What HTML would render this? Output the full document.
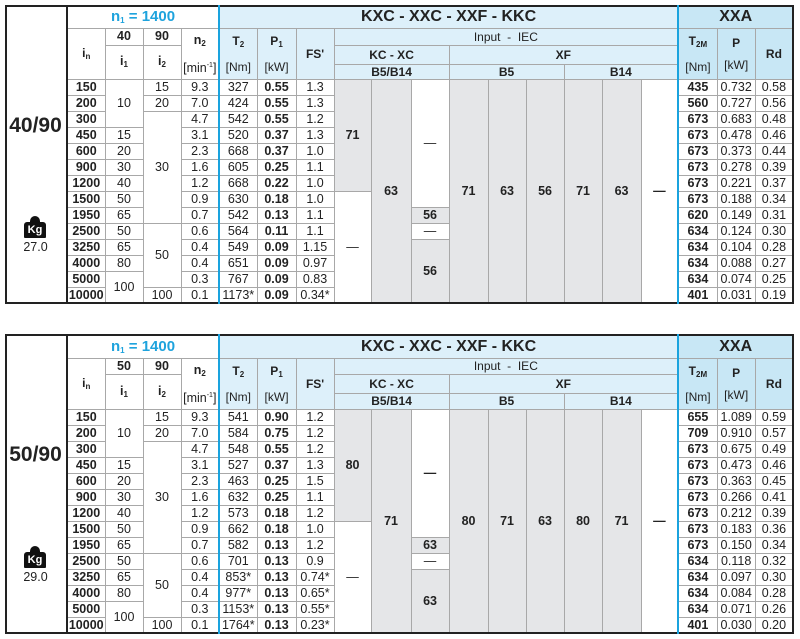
<!DOCTYPE html>
<html><head><meta charset="utf-8">
<style>
body{margin:0;width:800px;height:639px;background:#fff;position:relative;overflow:hidden;font-family:"Liberation Sans",Arial,sans-serif;color:#222;}
table{position:absolute;left:5px;border-collapse:collapse;table-layout:fixed;border:2px solid #222;}
td{border:1px solid #a8a8a8;padding:0;text-align:center;font-size:12.5px;line-height:1;white-space:nowrap;overflow:hidden;}
.lab{border-right:2px solid #222;}
.h{background:#ddf0fa;font-weight:bold;font-size:12px;}
.hx{background:#c8e7f5;font-weight:bold;font-size:12px;}
.n{font-weight:normal;}
.n1{color:#1ea3dd;font-size:15px;font-weight:bold;background:#fff;}
.bl{border-left:2px solid #1aa3de;}
.g{background:#e5e6e8;font-weight:bold;}
.w{background:#fff;}
.b{font-weight:bold;}
.ov{position:absolute;text-align:center;width:61px;left:5px;}
.big{font-size:21px;font-weight:bold;}
.kg{position:absolute;left:24px;width:22px;}
.kg .k{position:absolute;top:6px;left:0;width:22px;height:16px;background:#111;border-radius:3px 3px 1px 1px;color:#fff;font-size:11px;font-weight:bold;line-height:16px;text-align:center;}
.kg .t1{position:absolute;top:0;left:6px;width:10px;height:7px;background:#111;border-radius:5px 5px 0 0;}
sub{font-size:8px;vertical-align:-2px;}
sup{font-size:7px;vertical-align:5px;}
</style></head><body>

<table style="top:5px;width:787px;">
<colgroup><col style="width:61px"><col style="width:38px"><col style="width:38px"><col style="width:38px"><col style="width:38px"><col style="width:38px"><col style="width:39px"><col style="width:38px"><col style="width:37px"><col style="width:40px"><col style="width:38px"><col style="width:39px"><col style="width:38px"><col style="width:38px"><col style="width:38px"><col style="width:39px"><col style="width:37px"><col style="width:39px"><col style="width:38px"><col style="width:38px"></colgroup>
<tr style="height:22px"><td class="lab" rowspan="18"></td><td class="n1" colspan="4">n<sub>1</sub> = 1400</td><td class="h bl" colspan="12" style="font-size:16px">KXC - XXC - XXF - KKC</td><td class="hx bl" colspan="3" style="font-size:16px">XXA</td></tr>
<tr style="height:17px"><td class="b" rowspan="3" style="font-size:12px">i<sub>n</sub></td><td class="b">40</td><td class="b">90</td><td class="b" rowspan="3" style="line-height:22px">n<sub>2</sub><br><span class="n">[min<sup>-1</sup>]</span></td><td class="h bl" rowspan="3" style="line-height:22px">T<sub>2</sub><br><span class="n">[Nm]</span></td><td class="h" rowspan="3" style="line-height:22px">P<sub>1</sub><br><span class="n">[kW]</span></td><td class="h" rowspan="3">FS'</td><td class="h n" colspan="9">Input &nbsp;- &nbsp;IEC</td><td class="hx bl" rowspan="3" style="line-height:22px">T<sub>2M</sub><br><span class="n">[Nm]</span></td><td class="hx" rowspan="3" style="line-height:22px">P<br><span class="n">[kW]</span></td><td class="hx" rowspan="3">Rd</td></tr>
<tr style="height:18px"><td class="b" rowspan="2">i<sub>1</sub></td><td class="b" rowspan="2">i<sub>2</sub></td><td class="h" colspan="3">KC - XC</td><td class="h" colspan="6">XF</td></tr>
<tr style="height:15px"><td class="h" colspan="3">B5/B14</td><td class="h" colspan="3">B5</td><td class="h" colspan="3">B14</td></tr>
<tr style="height:16px"><td class="b">150</td><td rowspan="3">10</td><td>15</td><td>9.3</td><td class="bl">327</td><td class="b">0.55</td><td>1.3</td><td class="g" rowspan="7">71</td><td class="g" rowspan="14">63</td><td class="w" rowspan="8">—</td><td class="g" rowspan="14">71</td><td class="g" rowspan="14">63</td><td class="g" rowspan="14">56</td><td class="g" rowspan="14">71</td><td class="g" rowspan="14">63</td><td class="w b" rowspan="14">—</td><td class="b bl">435</td><td>0.732</td><td>0.58</td></tr>
<tr style="height:16px"><td class="b">200</td><td>20</td><td>7.0</td><td class="bl">424</td><td class="b">0.55</td><td>1.3</td><td class="b bl">560</td><td>0.727</td><td>0.56</td></tr>
<tr style="height:16px"><td class="b">300</td><td rowspan="7">30</td><td>4.7</td><td class="bl">542</td><td class="b">0.55</td><td>1.2</td><td class="b bl">673</td><td>0.683</td><td>0.48</td></tr>
<tr style="height:16px"><td class="b">450</td><td>15</td><td>3.1</td><td class="bl">520</td><td class="b">0.37</td><td>1.3</td><td class="b bl">673</td><td>0.478</td><td>0.46</td></tr>
<tr style="height:16px"><td class="b">600</td><td>20</td><td>2.3</td><td class="bl">668</td><td class="b">0.37</td><td>1.0</td><td class="b bl">673</td><td>0.373</td><td>0.44</td></tr>
<tr style="height:16px"><td class="b">900</td><td>30</td><td>1.6</td><td class="bl">605</td><td class="b">0.25</td><td>1.1</td><td class="b bl">673</td><td>0.278</td><td>0.39</td></tr>
<tr style="height:16px"><td class="b">1200</td><td>40</td><td>1.2</td><td class="bl">668</td><td class="b">0.22</td><td>1.0</td><td class="b bl">673</td><td>0.221</td><td>0.37</td></tr>
<tr style="height:16px"><td class="b">1500</td><td>50</td><td>0.9</td><td class="bl">630</td><td class="b">0.18</td><td>1.0</td><td class="w" rowspan="7">—</td><td class="b bl">673</td><td>0.188</td><td>0.34</td></tr>
<tr style="height:16px"><td class="b">1950</td><td>65</td><td>0.7</td><td class="bl">542</td><td class="b">0.13</td><td>1.1</td><td class="g">56</td><td class="b bl">620</td><td>0.149</td><td>0.31</td></tr>
<tr style="height:16px"><td class="b">2500</td><td>50</td><td rowspan="4">50</td><td>0.6</td><td class="bl">564</td><td class="b">0.11</td><td>1.1</td><td class="w">—</td><td class="b bl">634</td><td>0.124</td><td>0.30</td></tr>
<tr style="height:16px"><td class="b">3250</td><td>65</td><td>0.4</td><td class="bl">549</td><td class="b">0.09</td><td>1.15</td><td class="g" rowspan="4">56</td><td class="b bl">634</td><td>0.104</td><td>0.28</td></tr>
<tr style="height:16px"><td class="b">4000</td><td>80</td><td>0.4</td><td class="bl">651</td><td class="b">0.09</td><td>0.97</td><td class="b bl">634</td><td>0.088</td><td>0.27</td></tr>
<tr style="height:16px"><td class="b">5000</td><td rowspan="2">100</td><td>0.3</td><td class="bl">767</td><td class="b">0.09</td><td>0.83</td><td class="b bl">634</td><td>0.074</td><td>0.25</td></tr>
<tr style="height:16px"><td class="b">10000</td><td>100</td><td>0.1</td><td class="bl">1173*</td><td class="b">0.09</td><td>0.34*</td><td class="b bl">401</td><td>0.031</td><td>0.19</td></tr>
</table>

<table style="top:334px;width:787px;">
<colgroup><col style="width:61px"><col style="width:38px"><col style="width:38px"><col style="width:38px"><col style="width:38px"><col style="width:38px"><col style="width:39px"><col style="width:38px"><col style="width:37px"><col style="width:40px"><col style="width:38px"><col style="width:39px"><col style="width:38px"><col style="width:38px"><col style="width:38px"><col style="width:39px"><col style="width:37px"><col style="width:39px"><col style="width:38px"><col style="width:38px"></colgroup>
<tr style="height:23px"><td class="lab" rowspan="18"></td><td class="n1" colspan="4">n<sub>1</sub> = 1400</td><td class="h bl" colspan="12" style="font-size:16px">KXC - XXC - XXF - KKC</td><td class="hx bl" colspan="3" style="font-size:16px">XXA</td></tr>
<tr style="height:16px"><td class="b" rowspan="3" style="font-size:12px">i<sub>n</sub></td><td class="b">50</td><td class="b">90</td><td class="b" rowspan="3" style="line-height:22px">n<sub>2</sub><br><span class="n">[min<sup>-1</sup>]</span></td><td class="h bl" rowspan="3" style="line-height:22px">T<sub>2</sub><br><span class="n">[Nm]</span></td><td class="h" rowspan="3" style="line-height:22px">P<sub>1</sub><br><span class="n">[kW]</span></td><td class="h" rowspan="3">FS'</td><td class="h n" colspan="9">Input &nbsp;- &nbsp;IEC</td><td class="hx bl" rowspan="3" style="line-height:22px">T<sub>2M</sub><br><span class="n">[Nm]</span></td><td class="hx" rowspan="3" style="line-height:22px">P<br><span class="n">[kW]</span></td><td class="hx" rowspan="3">Rd</td></tr>
<tr style="height:16px"><td class="b" rowspan="2">i<sub>1</sub></td><td class="b" rowspan="2">i<sub>2</sub></td><td class="h" colspan="3">KC - XC</td><td class="h" colspan="6">XF</td></tr>
<tr style="height:16px"><td class="h" colspan="3">B5/B14</td><td class="h" colspan="3">B5</td><td class="h" colspan="3">B14</td></tr>
<tr style="height:16px"><td class="b">150</td><td rowspan="3">10</td><td>15</td><td>9.3</td><td class="bl">541</td><td class="b">0.90</td><td>1.2</td><td class="g" rowspan="7">80</td><td class="g" rowspan="14">71</td><td class="w b" rowspan="8">—</td><td class="g" rowspan="14">80</td><td class="g" rowspan="14">71</td><td class="g" rowspan="14">63</td><td class="g" rowspan="14">80</td><td class="g" rowspan="14">71</td><td class="w b" rowspan="14">—</td><td class="b bl">655</td><td>1.089</td><td>0.59</td></tr>
<tr style="height:16px"><td class="b">200</td><td>20</td><td>7.0</td><td class="bl">584</td><td class="b">0.75</td><td>1.2</td><td class="b bl">709</td><td>0.910</td><td>0.57</td></tr>
<tr style="height:16px"><td class="b">300</td><td rowspan="7">30</td><td>4.7</td><td class="bl">548</td><td class="b">0.55</td><td>1.2</td><td class="b bl">673</td><td>0.675</td><td>0.49</td></tr>
<tr style="height:16px"><td class="b">450</td><td>15</td><td>3.1</td><td class="bl">527</td><td class="b">0.37</td><td>1.3</td><td class="b bl">673</td><td>0.473</td><td>0.46</td></tr>
<tr style="height:16px"><td class="b">600</td><td>20</td><td>2.3</td><td class="bl">463</td><td class="b">0.25</td><td>1.5</td><td class="b bl">673</td><td>0.363</td><td>0.45</td></tr>
<tr style="height:16px"><td class="b">900</td><td>30</td><td>1.6</td><td class="bl">632</td><td class="b">0.25</td><td>1.1</td><td class="b bl">673</td><td>0.266</td><td>0.41</td></tr>
<tr style="height:16px"><td class="b">1200</td><td>40</td><td>1.2</td><td class="bl">573</td><td class="b">0.18</td><td>1.2</td><td class="b bl">673</td><td>0.212</td><td>0.39</td></tr>
<tr style="height:16px"><td class="b">1500</td><td>50</td><td>0.9</td><td class="bl">662</td><td class="b">0.18</td><td>1.0</td><td class="w" rowspan="7">—</td><td class="b bl">673</td><td>0.183</td><td>0.36</td></tr>
<tr style="height:16px"><td class="b">1950</td><td>65</td><td>0.7</td><td class="bl">582</td><td class="b">0.13</td><td>1.2</td><td class="g">63</td><td class="b bl">673</td><td>0.150</td><td>0.34</td></tr>
<tr style="height:16px"><td class="b">2500</td><td>50</td><td rowspan="4">50</td><td>0.6</td><td class="bl">701</td><td class="b">0.13</td><td>0.9</td><td class="w">—</td><td class="b bl">634</td><td>0.118</td><td>0.32</td></tr>
<tr style="height:16px"><td class="b">3250</td><td>65</td><td>0.4</td><td class="bl">853*</td><td class="b">0.13</td><td>0.74*</td><td class="g" rowspan="4">63</td><td class="b bl">634</td><td>0.097</td><td>0.30</td></tr>
<tr style="height:16px"><td class="b">4000</td><td>80</td><td>0.4</td><td class="bl">977*</td><td class="b">0.13</td><td>0.65*</td><td class="b bl">634</td><td>0.084</td><td>0.28</td></tr>
<tr style="height:16px"><td class="b">5000</td><td rowspan="2">100</td><td>0.3</td><td class="bl">1153*</td><td class="b">0.13</td><td>0.55*</td><td class="b bl">634</td><td>0.071</td><td>0.26</td></tr>
<tr style="height:16px"><td class="b">10000</td><td>100</td><td>0.1</td><td class="bl">1764*</td><td class="b">0.13</td><td>0.23*</td><td class="b bl">401</td><td>0.030</td><td>0.20</td></tr>
</table>

<div class="ov big" style="top:114px;">40/90</div>
<div class="kg" style="top:216px;"><div class="t1"></div><div class="k">Kg</div></div>
<div class="ov" style="top:240px;font-size:12.5px;">27.0</div>

<div class="ov big" style="top:443px;">50/90</div>
<div class="kg" style="top:546px;"><div class="t1"></div><div class="k">Kg</div></div>
<div class="ov" style="top:570px;font-size:12.5px;">29.0</div>
</body></html>
